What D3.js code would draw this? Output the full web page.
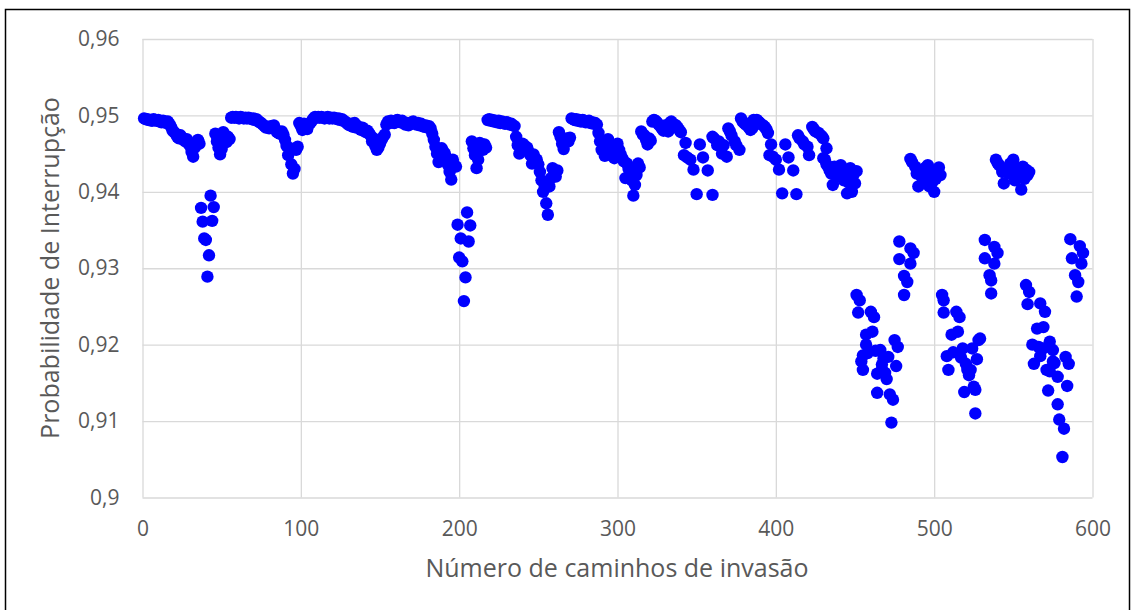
<!DOCTYPE html>
<html><head><meta charset="utf-8">
<script src="https://cdn.jsdelivr.net/npm/d3@7"></script>
<style>body{margin:0;background:#fff}svg{display:block}</style>
</head><body>
<svg id="c" width="1132" height="610"></svg>
<script>
// ---------- DATA ----------
const xTicks = [0,100,200,300,400,500,600];
const yTicks = [0.9,0.91,0.92,0.93,0.94,0.95,0.96];
const yTickLabels = ["0,9","0,91","0,92","0,93","0,94","0,95","0,96"];
const xTitle = "Número de caminhos de invasão";
const yTitle = "Probabilidade de Interrupção";

// consecutive runs: first x, then values
const runA_start = 1;
const runA = [0.9496,0.9495,0.9495,0.9494,0.9494,0.9493,0.9495,0.9494,0.9493,0.9494,0.9492,0.9491,0.9493,0.9492,0.9490,0.9492,0.9489,0.9485,0.9480,0.9478,0.9476,0.9472,0.9470,0.9474,0.9471,0.9468,0.9466,0.9469,0.9463,0.9460,0.9452,0.9446,0.9458,0.9464,0.9468,0.9463];
const dip1_start = 37;
const dip1 = [0.9379,0.9361,0.9339,0.9337,0.9289,0.9317,0.9395,0.9362,0.9380];
const runB_start = 46;
const runB = [0.9476,0.9466,0.9458,0.9449,0.9456,0.9478,0.9470,0.9465,0.9472,0.9469];
const runC_start = 56;
const runC = [0.9497,0.9498,0.9497,0.9498,0.9497,0.9496,0.9498,0.9497,0.9496,0.9497,0.9496,0.9497,0.9496,0.9495,0.9496,0.9494,0.9495,0.9493,0.9491,0.9490,0.9488,0.9486,0.9484,0.9485,0.9483,0.9486,0.9484,0.9487,0.9482,0.9478,0.9477,0.9476,0.9479,0.9475,0.9468,0.9460,0.9448,0.9457,0.9436,0.9424,0.9430,0.9455,0.9459,0.9490,0.9486];
const runD_start = 101;
const runD = [0.9481,0.9489,0.9484,0.9482,0.9488,0.9490,0.9493,0.9496,0.9498,0.9497,0.9498,0.9497,0.9498,0.9497,0.9496,0.9497,0.9498,0.9496,0.9497,0.9496,0.9497,0.9496,0.9495,0.9496,0.9494,0.9495,0.9493,0.9492,0.9490,0.9488];
const runE_start = 131;
const runE = [0.9487,0.9489,0.9485,0.9490,0.9484,0.9486,0.9483,0.9481,0.9484,0.9481,0.9478,0.9480,0.9477,0.9474,0.9466,0.9470,0.9460,0.9455,0.9458,0.9463,0.9468,0.9472,0.9475,0.9488,0.9492,0.9490,0.9493,0.9491,0.9490,0.9493,0.9494,0.9492,0.9491,0.9493,0.9490,0.9488,0.9490,0.9487,0.9489,0.9491,0.9492,0.9490,0.9488,0.9490,0.9487,0.9489,0.9486,0.9485,0.9487,0.9484,0.9486,0.9483,0.9476];
const runF_start = 184;
const runF = [0.9468,0.9459,0.9450,0.9439,0.9448,0.9457,0.9453,0.9450,0.9444,0.9435,0.9426,0.9416,0.9442,0.9435,0.9433];
const dip2_start = 199;
const dip2 = [0.9357,0.9314,0.9339,0.9309,0.9257,0.9288,0.9373,0.9335,0.9356];
const runG_start = 208;
const runG = [0.9466,0.9457,0.9448,0.9431,0.9442,0.9464,0.9460,0.9455,0.9462,0.9458];
const runH_start = 218;
const runH = [0.9494,0.9495,0.9493,0.9494,0.9492,0.9493,0.9491,0.9493,0.9490,0.9492,0.9491,0.9489,0.9491,0.9490,0.9488,0.9489,0.9487,0.9486];
const runI_start = 236;
const runI = [0.9472,0.9461,0.9450,0.9458,0.9463,0.9461,0.9455,0.9458,0.9452,0.9448,0.9437,0.9449,0.9444,0.9442,0.9436,0.9426,0.9415,0.9400,0.9408,0.9385,0.9370,0.9407,0.9418,0.9431,0.9425,0.9420,0.9428];
const runJ_start = 263;
const runJ = [0.9478,0.9472,0.9463,0.9456,0.9468,0.9470,0.9466,0.9471];
const runK_start = 271;
const runK = [0.9496,0.9495,0.9494,0.9495,0.9493,0.9494,0.9492,0.9494,0.9493,0.9491,0.9492,0.9493,0.9490,0.9491,0.9489,0.9490,0.9488];
const runL_start = 288;
const runL = [0.9477,0.9466,0.9455,0.9460,0.9447,0.9463,0.9469,0.9460,0.9455,0.9451,0.9444,0.9458,0.9463,0.9455,0.9449,0.9444,0.9440,0.9418,0.9437,0.9430,0.9426,0.9415,0.9395,0.9409,0.9422,0.9437,0.9432];
const runM_start = 315;
const runM = [0.9479,0.9475,0.9474,0.9468,0.9462,0.9470,0.9467];
const runN_start = 322;
const runN = [0.9492,0.9494,0.9493,0.9491,0.9488,0.9486,0.9483,0.9480,0.9487,0.9485,0.9479,0.9490,0.9492,0.9489,0.9488,0.9487,0.9484,0.9481,0.9478];
const runO_start = 378;
const runO = [0.9496,0.9492,0.9490,0.9488,0.9487,0.9484,0.9481,0.9483,0.9494,0.9493,0.9494,0.9492,0.9490,0.9488,0.9487,0.9485,0.9482,0.9477];

// scattered groups: explicit x and y
const clA_x = [342,343,344,346,348,350,352,354,357,360];
const clA_y = [0.9448,0.9464,0.9445,0.9442,0.9429,0.9397,0.9462,0.9445,0.9428,0.9396];
const clB_x = [360,361,363,364,366,367,369,370,371,372,374,375,377];
const clB_y = [0.9472,0.9470,0.9461,0.9466,0.9450,0.9461,0.9446,0.9483,0.9479,0.9474,0.9466,0.9461,0.9455];
const clC_x = [396,397,398,400,402,404,406,408,411,413];
const clC_y = [0.9448,0.9462,0.9446,0.9442,0.9429,0.9398,0.9462,0.9445,0.9428,0.9397];
const clD_x = [414,415,417,418,420,421,423,424,425,427,429,430,432];
const clD_y = [0.9474,0.9470,0.9466,0.9462,0.9459,0.9448,0.9485,0.9482,0.9479,0.9477,0.9473,0.9470,0.9457];
const clE_x = [430,431,432,433,434,435,436,437,438,439,440,441,442,443,444,445,446,447,448,449,450,451];
const clE_y = [0.9444,0.9442,0.9436,0.9433,0.9428,0.9424,0.9409,0.9433,0.9426,0.9420,0.9430,0.9435,0.9429,0.9415,0.9420,0.9398,0.9412,0.9431,0.9400,0.9422,0.9411,0.9427];
const dip3_x = [451,453,452,460,462,457,461,455,454,455,458,466,468,471,475,477,476,464,467,470,464,472,474,473,467,469,463,457];
const dip3_y = [0.9265,0.9258,0.9242,0.9243,0.9236,0.9213,0.9217,0.9186,0.9178,0.9167,0.9189,0.9193,0.9182,0.9184,0.9206,0.9197,0.9172,0.9162,0.9167,0.9155,0.9137,0.9135,0.9128,0.9098,0.9174,0.9163,0.9192,0.9200];
const sub3_x = [478,485,487,478,485,481,483,481];
const sub3_y = [0.9335,0.9326,0.9320,0.9312,0.9306,0.9290,0.9282,0.9265];
const top3_x = [485,486,488,489,490,491,492,494,495,496,497,498,499,500,501,502,503,504];
const top3_y = [0.9443,0.9439,0.9433,0.9424,0.9407,0.9428,0.9420,0.9431,0.9417,0.9435,0.9407,0.9426,0.9413,0.9400,0.9417,0.9429,0.9432,0.9422];
const dip4_x = [505,506,506,514,516,511,515,508,509,512,518,521,519,526,526,528,529,524,527,523,520,522,525,517];
const dip4_y = [0.9265,0.9258,0.9242,0.9243,0.9236,0.9213,0.9217,0.9185,0.9167,0.9190,0.9195,0.9167,0.9138,0.9141,0.9110,0.9206,0.9208,0.9195,0.9181,0.9167,0.9175,0.9160,0.9145,0.9183];
const sub4_x = [532,538,540,532,538,535,536,536];
const sub4_y = [0.9337,0.9328,0.9320,0.9313,0.9306,0.9291,0.9284,0.9267];
const top4_x = [539,540,541,543,544,545,547,548,550,551,552,554,555,556,557,558,559,560];
const top4_y = [0.9442,0.9438,0.9435,0.9426,0.9411,0.9430,0.9424,0.9437,0.9442,0.9415,0.9431,0.9424,0.9403,0.9433,0.9417,0.9429,0.9422,0.9426];
const dip5_x = [558,560,559,567,570,565,569,562,566,563,573,575,571,576,578,583,585,584,572,578,579,582,581,569,573,575,567];
const dip5_y = [0.9278,0.9269,0.9253,0.9254,0.9243,0.9221,0.9223,0.9200,0.9197,0.9175,0.9204,0.9193,0.9167,0.9176,0.9158,0.9184,0.9175,0.9146,0.9140,0.9122,0.9102,0.9090,0.9053,0.9195,0.9165,0.9178,0.9185];
const sub5_x = [586,592,594,587,593,589,591,590];
const sub5_y = [0.9338,0.9329,0.9320,0.9313,0.9306,0.9291,0.9282,0.9263];

// ---------- BUILD POINTS ----------
const runs = [[runA_start,runA],[dip1_start,dip1],[runB_start,runB],[runC_start,runC],[runD_start,runD],[runE_start,runE],[runF_start,runF],[dip2_start,dip2],[runG_start,runG],[runH_start,runH],[runI_start,runI],[runJ_start,runJ],[runK_start,runK],[runL_start,runL],[runM_start,runM],[runN_start,runN],[runO_start,runO]];
const groups = [[clA_x,clA_y],[clB_x,clB_y],[clC_x,clC_y],[clD_x,clD_y],[clE_x,clE_y],[dip3_x,dip3_y],[sub3_x,sub3_y],[top3_x,top3_y],[dip4_x,dip4_y],[sub4_x,sub4_y],[top4_x,top4_y],[dip5_x,dip5_y],[sub5_x,sub5_y]];
const points = [];
runs.forEach(([s,vals]) => vals.forEach((v,i) => points.push({x:s+i, y:v})));
groups.forEach(([xs,ys]) => xs.forEach((xv,i) => points.push({x:xv, y:ys[i]})));

// ---------- DRAW ----------
const svg = d3.select("#c");
const FONT = "'Open Sans', 'DejaVu Sans', sans-serif";
const TXT = "#595959";
const x = d3.scaleLinear().domain([0,600]).range([142.5,1092.5]);
const y = d3.scaleLinear().domain([0.9,0.96]).range([497.5,39]);

svg.append("rect").attr("x",5.5).attr("y",9.5).attr("width",1124).attr("height",640)
  .attr("fill","#fff").attr("stroke","#000").attr("stroke-width",1.5);

const gy = svg.append("g").attr("transform",`translate(${x(0)},0)`)
  .call(d3.axisLeft(y).tickValues(yTicks).tickSize(-(x(600)-x(0))).tickPadding(23)
    .tickFormat((d,i)=>yTickLabels[i]));
const gx = svg.append("g").attr("transform",`translate(0,${y(0.9)})`)
  .call(d3.axisBottom(x).tickValues(xTicks).tickSize(-(y(0.9)-y(0.96))).tickPadding(24)
    .tickFormat(d3.format("d")));
[gx,gy].forEach(g=>{
  g.select(".domain").remove();
  g.selectAll(".tick line").attr("stroke","#d9d9d9").attr("stroke-width",1.3);
  g.selectAll(".tick text").attr("fill",TXT).style("font-family",FONT).style("font-size","21px");
});

svg.append("g").selectAll("circle").data(points).join("circle")
  .attr("cx",d=>x(d.x)).attr("cy",d=>y(d.y)).attr("r",6.2).attr("fill","#0000ff");

svg.append("text").attr("x",617).attr("y",577).attr("text-anchor","middle")
  .attr("fill",TXT).style("font-family",FONT).style("font-size","25px").text(xTitle);
svg.append("text").attr("transform","translate(59,268) rotate(-90)").attr("text-anchor","middle")
  .attr("fill",TXT).style("font-family",FONT).style("font-size","25px").text(yTitle);
</script>
</body></html>
